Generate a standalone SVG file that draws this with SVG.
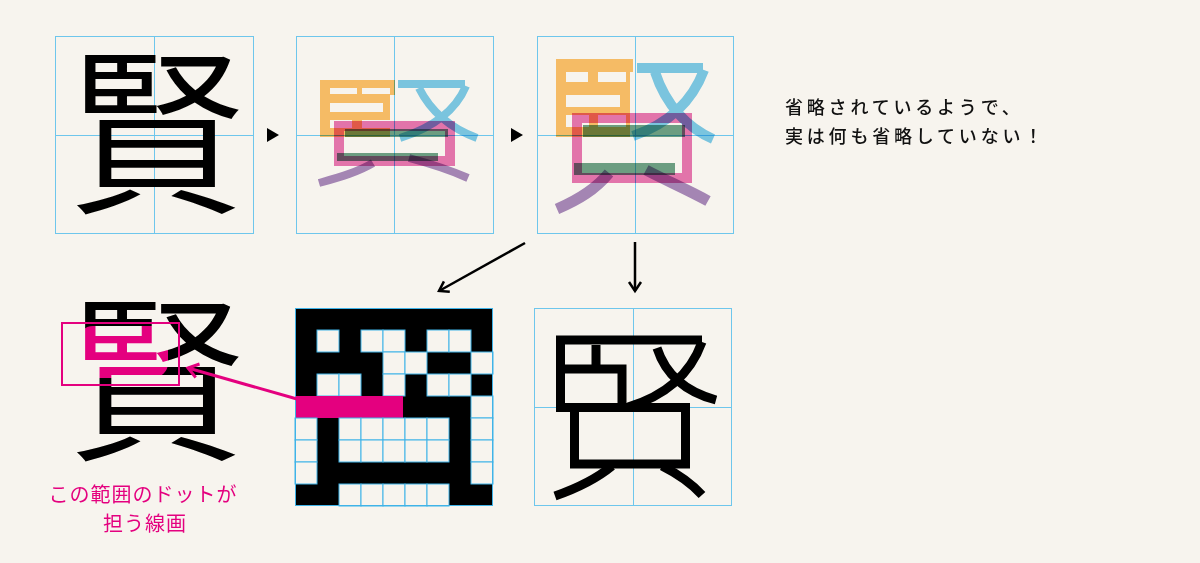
<svg xmlns="http://www.w3.org/2000/svg" width="1200" height="563" viewBox="0 0 1200 563">
<style>
.bg{fill:#F7F4EE}
.frame{fill:none;stroke:#6EC6EC;stroke-width:1}
.cell{fill:#F7F4EE;stroke:#3FB3E8;stroke-width:1}
.kanji{font-family:"Noto Sans CJK JP","Noto Sans CJK SC",sans-serif;font-size:178px;font-weight:350;fill:#000}
.m{mix-blend-mode:multiply}
.or{fill:#FDC46C;fill-rule:evenodd}
.bl{fill:none;stroke:#7ECDEE}
.pk{fill:none;stroke:#EA79B6}
.pu{fill:none;stroke:#A98BC0}
.gr{fill:#6FA48A}
.blk{fill:none;stroke:#000;stroke-width:9}
.note{font-family:"Noto Sans CJK JP",sans-serif;font-size:18px;font-weight:500;fill:#111;letter-spacing:3.8px}
.lab{font-family:"Noto Sans CJK JP",sans-serif;font-size:20px;fill:#E4007F;letter-spacing:1px}
.arr{fill:none;stroke:#000;stroke-width:2.5}
</style>
<defs>
<marker id="ah" markerUnits="userSpaceOnUse" markerWidth="16" markerHeight="16" refX="12" refY="8" orient="auto">
<path d="M3,2 L12,8 L3,14" fill="none" stroke="#000" stroke-width="2.5"/>
</marker>
<marker id="ahp" markerUnits="userSpaceOnUse" markerWidth="18" markerHeight="18" refX="13" refY="9" orient="auto">
<path d="M3,2 L13,9 L3,16" fill="none" stroke="#E4007F" stroke-width="3"/>
</marker>
<pattern id="pinkfill" patternUnits="userSpaceOnUse" x="0" y="0" width="1200" height="563">
<rect x="0" y="0" width="1200" height="563" fill="#000"/>
<rect x="78" y="326" width="90" height="52" rx="15" fill="#E4007F"/>
</pattern>
</defs>
<rect class="bg" x="0" y="0" width="1200" height="563"/>

<g id="box1">
<rect class="frame" x="55.5" y="36.5" width="198" height="197"/>
<line class="frame" x1="154.5" y1="36.5" x2="154.5" y2="233.5"/>
<line class="frame" x1="55.5" y1="135.5" x2="253.5" y2="135.5"/>
<text class="kanji" x="156" y="200" text-anchor="middle">賢</text>
</g>

<g id="step1">
<polygon points="267,128 279,135 267,142" fill="#000"/>
<polygon points="511,128 523,135 511,142" fill="#000"/>
</g>

<g id="box2">
<rect class="frame" x="296.5" y="36.5" width="197" height="197"/>
<line class="frame" x1="394.5" y1="36.5" x2="394.5" y2="233.5"/>
<line class="frame" x1="296.5" y1="135.5" x2="493.5" y2="135.5"/>
<path class="or m" d="M320,80 H395 V95 H390 V137 H320 Z M330,88 H357 V94 H330 Z M362,88 H390 V94 H362 Z M330,103 H383 V112 H330 Z M330,120 H352 V128 H330 Z M362,120 H390 V128 H362 Z"/>
<g class="bl m" stroke-width="8">
<path d="M398,84 H465"/>
<path d="M466,86 C455,112 432,128 400,138"/>
<path d="M419,88 C430,110 450,128 477,138"/>
</g>
<rect class="pk m" x="339" y="126" width="111" height="35" stroke-width="10"/>
<rect class="gr m" x="345" y="129" width="103" height="8"/>
<rect class="gr m" x="337" y="153" width="101" height="8"/>
<g class="pu m" stroke-width="8">
<path d="M373,163 C358,172 340,177 319,183"/>
<path d="M409,158 C428,163 450,170 468,178"/>
</g>
</g>

<g id="box3">
<rect class="frame" x="537.5" y="36.5" width="196" height="197"/>
<line class="frame" x1="635.5" y1="36.5" x2="635.5" y2="233.5"/>
<line class="frame" x1="537.5" y1="135.5" x2="733.5" y2="135.5"/>
<path class="or m" d="M556,59 H633 V72 H630 V137 H556 Z M566,72 H588 V82 H566 Z M598,72 H626 V82 H598 Z M566,95 H620 V107 H566 Z M566,115 H589 V127 H566 Z M598,115 H626 V127 H598 Z"/>
<g class="bl m" stroke-width="10">
<path d="M637,68 H703"/>
<path d="M704,70 C692,102 668,124 633,136"/>
<path d="M655,72 C666,106 688,128 713,139"/>
</g>
<rect class="pk m" x="577" y="118" width="110" height="60" stroke-width="10"/>
<rect class="gr m" x="583" y="125" width="102" height="12"/>
<rect class="gr m" x="574" y="163" width="101" height="12"/>
<g class="pu m" stroke-width="11">
<path d="M609,173 C595,190 578,200 557,209"/>
<path d="M646,170 C665,180 688,190 708,201"/>
</g>
</g>

<g id="glyph-highlight">
<text class="kanji" x="156" y="447" text-anchor="middle" style="fill:url(#pinkfill)">賢</text>
<rect x="62" y="323" width="117" height="62" fill="none" stroke="#E4007F" stroke-width="2"/>
</g>
<g id="label">
<text class="lab" x="143" y="502" text-anchor="middle">この範囲のドットが</text>
<text class="lab" x="145" y="531" text-anchor="middle">担う線画</text>
</g>

<g id="pixelgrid">
<rect x="295" y="308" width="198" height="198" fill="#000"/>
<rect class="cell" x="317" y="330" width="22" height="22"/>
<rect class="cell" x="361" y="330" width="22" height="22"/>
<rect class="cell" x="383" y="330" width="22" height="22"/>
<rect class="cell" x="427" y="330" width="22" height="22"/>
<rect class="cell" x="449" y="330" width="22" height="22"/>
<rect class="cell" x="383" y="352" width="22" height="22"/>
<rect class="cell" x="405" y="352" width="22" height="22"/>
<rect class="cell" x="471" y="352" width="22" height="22"/>
<rect class="cell" x="317" y="374" width="22" height="22"/>
<rect class="cell" x="339" y="374" width="22" height="22"/>
<rect class="cell" x="383" y="374" width="22" height="22"/>
<rect class="cell" x="427" y="374" width="22" height="22"/>
<rect class="cell" x="449" y="374" width="22" height="22"/>
<rect class="cell" x="471" y="396" width="22" height="22"/>
<rect x="295" y="396" width="108" height="22" fill="#E4007F"/>
<rect class="cell" x="295" y="418" width="22" height="22"/>
<rect class="cell" x="339" y="418" width="22" height="22"/>
<rect class="cell" x="361" y="418" width="22" height="22"/>
<rect class="cell" x="383" y="418" width="22" height="22"/>
<rect class="cell" x="405" y="418" width="22" height="22"/>
<rect class="cell" x="427" y="418" width="22" height="22"/>
<rect class="cell" x="471" y="418" width="22" height="22"/>
<rect class="cell" x="295" y="440" width="22" height="22"/>
<rect class="cell" x="339" y="440" width="22" height="22"/>
<rect class="cell" x="361" y="440" width="22" height="22"/>
<rect class="cell" x="383" y="440" width="22" height="22"/>
<rect class="cell" x="405" y="440" width="22" height="22"/>
<rect class="cell" x="427" y="440" width="22" height="22"/>
<rect class="cell" x="471" y="440" width="22" height="22"/>
<rect class="cell" x="295" y="462" width="22" height="22"/>
<rect class="cell" x="471" y="462" width="22" height="22"/>
<rect class="cell" x="339" y="484" width="22" height="22"/>
<rect class="cell" x="361" y="484" width="22" height="22"/>
<rect class="cell" x="383" y="484" width="22" height="22"/>
<rect class="cell" x="405" y="484" width="22" height="22"/>
<rect class="cell" x="427" y="484" width="22" height="22"/>
<rect x="295.5" y="308.5" width="197" height="197" fill="none" stroke="#3FB3E8" stroke-width="1"/>
</g>

<g id="box4">
<rect class="frame" x="534.5" y="308.5" width="197" height="197"/>
<line class="frame" x1="633.5" y1="308.5" x2="633.5" y2="505.5"/>
<line class="frame" x1="534.5" y1="407.5" x2="731.5" y2="407.5"/>
<g class="blk">
<path d="M560.5,412 V340 H702"/>
<path d="M565,369 H622 V408"/>
<path d="M596,345 V369"/>
<path d="M556,407.5 H690"/>
<path d="M574.5,403 V464 H685.5 V403"/>
<path d="M612,466 C595,480 575,489 555,496"/>
<path d="M662,466 C678,474 692,484 702,495"/>
<path d="M702,342 C690,375 665,396 628,407"/>
<path d="M657,348 C666,376 686,392 716,400"/>
</g>
</g>

<g id="note">
<text class="note" x="785" y="114">省略されているようで、</text>
<text class="note" x="785" y="143">実は何も省略していない！</text>
</g>

<g id="connectors">
<line class="arr" x1="525" y1="243" x2="439" y2="291" marker-end="url(#ah)"/>
<line class="arr" x1="635" y1="242" x2="635" y2="291" marker-end="url(#ah)"/>
<line x1="297" y1="399" x2="188" y2="368" stroke="#E4007F" stroke-width="3" marker-end="url(#ahp)"/>
</g>
</svg>
